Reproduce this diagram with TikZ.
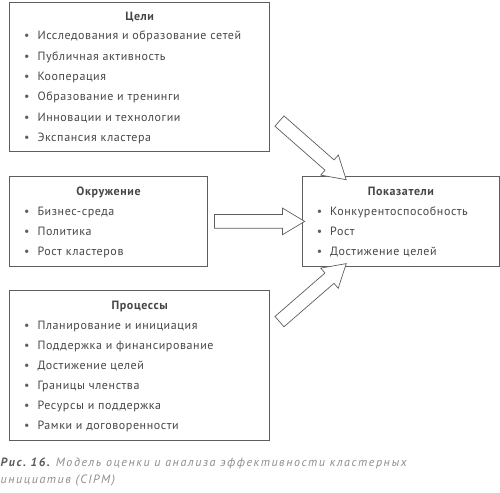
\documentclass[tikz,border=0pt]{standalone}
\usepackage{fontspec}
\setmainfont[LetterSpace=5]{PT Sans}
\newfontfamily\captionfont[LetterSpace=13]{PT Sans}
\usetikzlibrary{positioning,calc,shapes.arrows}

\definecolor{linegray}{HTML}{5E5E5E}
\definecolor{textgray}{HTML}{464646}
\definecolor{capdark}{HTML}{5A5A5A}
\definecolor{capgray}{HTML}{8C8C8C}

\newcommand{\itembullet}{\llap{\textcolor{linegray}{\textbullet}\hspace{8pt}}}

\begin{document}
\begin{tikzpicture}[
    x=1pt, y=-1pt, % pixel grid, y grows downwards
    font=\fontsize{12}{14}\selectfont,
    box/.style={draw=linegray, line width=0.8pt, inner sep=0pt, anchor=north west},
    boxtitle/.style={anchor=base, inner sep=0pt, text=textgray, font=\fontsize{12}{14}\selectfont\bfseries},
    entry/.style={anchor=base west, inner sep=0pt, text=textgray},
    bigarrow/.style={single arrow, draw=linegray, line width=0.7pt, fill=white,
        inner sep=6.5pt, single arrow head extend=6.5pt, single arrow tip angle=62},
    caption/.style={anchor=base west, inner sep=0pt, text=capgray, font=\captionfont\fontsize{12}{13}\selectfont\itshape},
]
\useasboundingbox (0,0) rectangle (500,492);

% boxes
\node[box, minimum width=260pt, minimum height=149.3pt] (goals) at (9.3,1.7) {};
\node[box, minimum width=197.7pt, minimum height=90pt] (env) at (9.3,176) {};
\node[box, minimum width=197pt, minimum height=90pt] (ind) at (302,176) {};
\node[box, minimum width=260pt, minimum height=150pt] (proc) at (9.3,290) {};

% titles
\node[boxtitle] (goals-t) at ($(goals.north)+(0,19)$) {Цели};
\node[boxtitle] (env-t) at ($(env.north)+(0,19)$) {Окружение};
\node[boxtitle] (ind-t) at ($(ind.north)+(0,19)$) {Показатели};
\node[boxtitle] (proc-t) at ($(proc.north)+(0,19)$) {Процессы};

% lists
\foreach \txt [count=\i] in {Исследования и образование сетей, Публичная активность, Кооперация,
    Образование и тренинги, Инновации и технологии, Экспансия кластера}
  \node[entry] (goals-\i) at ($(goals.north west)+(28,18+20.3*\i)$) {\itembullet\txt};
\foreach \txt [count=\i] in {Бизнес-среда, Политика, Рост кластеров}
  \node[entry] (env-\i) at ($(env.north west)+(28,19+20*\i)$) {\itembullet\txt};
\foreach \txt [count=\i] in {Конкурентоспособность, Рост, Достижение целей}
  \node[entry] (ind-\i) at ($(ind.north west)+(28,19.5+20*\i)$) {\itembullet\txt};
\foreach \txt [count=\i] in {Планирование и инициация, Поддержка и финансирование, Достижение целей,
    Границы членства, Ресурсы и поддержка, Рамки и договоренности}
  \node[entry] (proc-\i) at ($(proc.north west)+(28,19.2+20.1*\i)$) {\itembullet\txt};

% arrows into the indicator box
\coordinate (g-tail) at ($(goals.east)+(5,40.5)$);
\coordinate (g-tip) at ($(ind.north west)+(40,0)$);
\coordinate (e-tail) at ($(env.east)+(1,0)$);
\coordinate (e-tip) at ($(ind.west)+(-3,0)$);
\coordinate (p-tail) at ($(proc.east)+(5,-40)$);
\coordinate (p-tip) at ($(ind.south west)+(40,0.5)$);
\foreach \s/\e/\nm in {g-tail/g-tip/goals, e-tail/e-tip/env, p-tail/p-tip/proc}
  \path let \p1=(\s), \p2=(\e), \n1={atan2(\y2-\y1,\x2-\x1)}, \n2={veclen(\x2-\x1,\y2-\y1)} in
    node[bigarrow, minimum height=\n2, rotate=\n1] (arr-\nm) at ($(\p1)!.5!(\p2)$) {};

% caption
\node[caption] (cap-1) at (0.5,466.5)
  {{\color{capdark}\bfseries Рис.~16.}\hspace{6pt}Модель оценки и анализа эффективности кластерных};
\node[caption] (cap-2) at ($(cap-1.base west)+(0,16.8)$) {инициатив (CIPM)};
\end{tikzpicture}
\end{document}
